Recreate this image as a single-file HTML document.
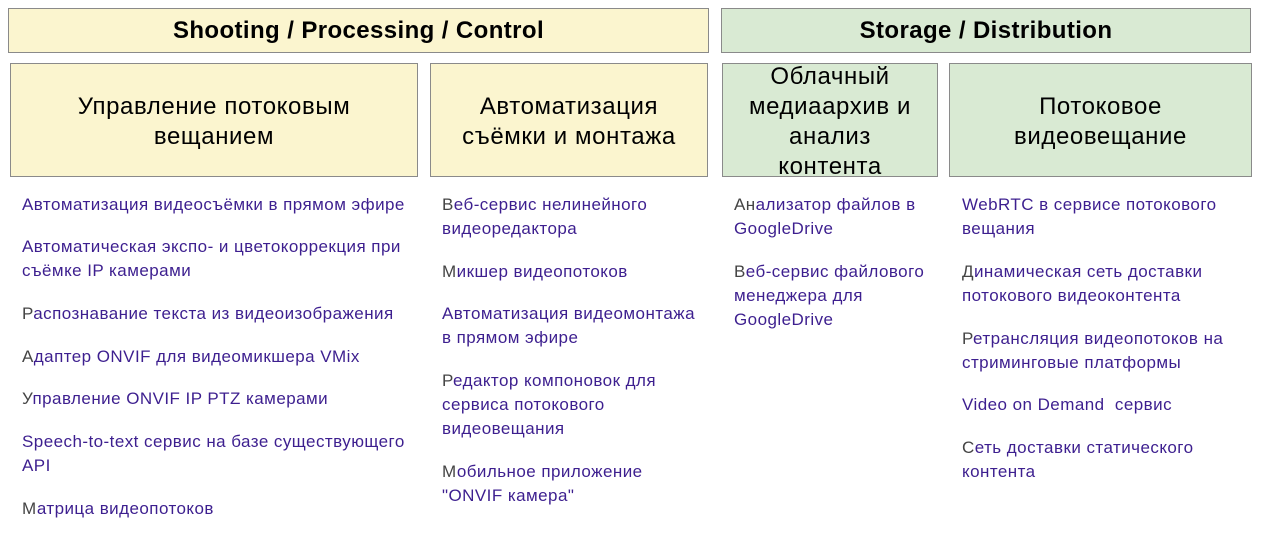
<!DOCTYPE html>
<html><head><meta charset="utf-8"><style>
body{margin:0;width:1261px;height:550px;background:#fff;position:relative;overflow:hidden;font-family:"Liberation Sans",Arial,sans-serif}
.b{position:absolute;box-sizing:border-box;border:1px solid #8a8a8a;display:flex;align-items:center;justify-content:center;text-align:center;color:#000}
.y{background:#fbf5cf}.g{background:#d9ead3}
.h{font-weight:bold;font-size:24px;letter-spacing:0.4px}
.s{font-size:24px;line-height:30px;letter-spacing:0.6px;padding-top:3px}
.i{position:absolute;font-size:17px;line-height:24px;color:#3d1f8f;letter-spacing:0.45px;white-space:nowrap}
.i b{font-weight:normal;color:#444}
</style></head><body>
<div class="b y h" style="left:8px;top:8px;width:701px;height:45px">Shooting / Processing / Control</div>
<div class="b g h" style="left:721px;top:8px;width:530px;height:45px">Storage / Distribution</div>
<div class="b y s" style="left:10px;top:63px;width:408px;height:114px">Управление потоковым<br>вещанием</div>
<div class="b y s" style="left:430px;top:63px;width:278px;height:114px">Автоматизация<br>съёмки и монтажа</div>
<div class="b g s" style="left:722px;top:63px;width:216px;height:114px">Облачный<br>медиаархив и<br>анализ<br>контента</div>
<div class="b g s" style="left:949px;top:63px;width:303px;height:114px">Потоковое<br>видеовещание</div>

<div class="i" style="left:22px;top:193px">Автоматизация видеосъёмки в прямом эфире</div>
<div class="i" style="left:22px;top:235px">Автоматическая экспо- и цветокоррекция при<br>съёмке IP камерами</div>
<div class="i" style="left:22px;top:302px"><b>Р</b>аспознавание текста из видеоизображения</div>
<div class="i" style="left:22px;top:345px"><b>А</b>дaптер ONVIF для видеомикшера VMix</div>
<div class="i" style="left:22px;top:387px"><b>У</b>правление ONVIF IP PTZ камерами</div>
<div class="i" style="left:22px;top:430px">Speech-to-text сервис на базе существующего<br>API</div>
<div class="i" style="left:22px;top:497px"><b>М</b>атрица видеопотоков</div>

<div class="i" style="left:442px;top:193px"><b>В</b>еб-сервис нелинейного<br>видеоредактора</div>
<div class="i" style="left:442px;top:260px"><b>М</b>икшер видеопотоков</div>
<div class="i" style="left:442px;top:302px">Автоматизация видеомонтажа<br>в прямом эфире</div>
<div class="i" style="left:442px;top:369px"><b>Р</b>едактор компоновок для<br>сервиса потокового<br>видеовещания</div>
<div class="i" style="left:442px;top:460px"><b>М</b>обильное приложение<br>"ONVIF камера"</div>

<div class="i" style="left:734px;top:193px"><b>Ан</b>ализатор файлов в<br>GoogleDrive</div>
<div class="i" style="left:734px;top:260px"><b>В</b>еб-сервис файлового<br>менеджера для<br>GoogleDrive</div>

<div class="i" style="left:962px;top:193px">WebRTC в сервисе потокового<br>вещания</div>
<div class="i" style="left:962px;top:260px"><b>Д</b>инамическая сеть доставки<br>потокового видеоконтента</div>
<div class="i" style="left:962px;top:327px"><b>Р</b>етрансляция видеопотоков на<br>стриминговые платформы</div>
<div class="i" style="left:962px;top:393px">Video on Demand&nbsp; сервис</div>
<div class="i" style="left:962px;top:436px"><b>С</b>еть доставки статического<br>контента</div>
</body></html>
